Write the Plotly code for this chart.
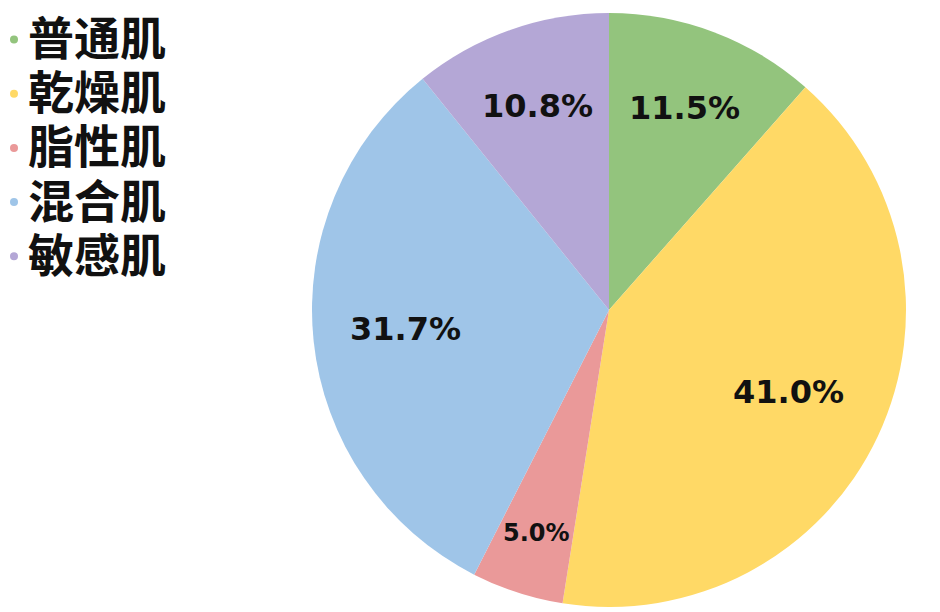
import math
import plotly.graph_objects as go

W, H = 940, 612

categories = ["普通肌", "乾燥肌", "脂性肌", "混合肌", "敏感肌"]
values = [11.5, 41.0, 5.0, 31.7, 10.8]
colors = ["#93C47D", "#FFD966", "#EA9999", "#9FC5E8", "#B4A7D6"]

# styling for percentage labels (radial position as fraction of radius, font size)
label_radius = [0.72, 0.667, 0.795, 0.69, 0.72]
label_sizes = [32, 32, 24, 32, 32]

CX, CY, R = 609, 310, 297  # pie center / radius in pixels

fig = go.Figure()
fig.add_trace(go.Pie(
    labels=categories,
    values=values,
    sort=False,
    direction="clockwise",
    rotation=0,
    marker=dict(colors=colors, line=dict(width=0)),
    textinfo="none",
    domain=dict(x=[(CX - R) / W, (CX + R) / W], y=[1 - (CY + R) / H, 1 - (CY - R) / H]),
    showlegend=False,
    hoverinfo="label+percent",
))

# percentage labels placed along each slice's mid-angle
total = sum(values)
cum = 0.0
for v, f, s in zip(values, label_radius, label_sizes):
    mid = (cum + v / 2) / total * 2 * math.pi
    cum += v
    px = CX + f * R * math.sin(mid)
    py = CY - f * R * math.cos(mid)
    fig.add_annotation(
        x=px / W, y=1 - (py - 2) / H, xref="paper", yref="paper",
        xanchor="center", yanchor="middle", showarrow=False,
        text=f"{v / total * 100:.1f}%",
        font=dict(family="DejaVu Sans", size=s, color="#111111", weight="bold"),
    )

# custom legend
row0, step = 35, 54.2
for i, (cat, col) in enumerate(zip(categories, colors)):
    yc = row0 + i * step
    fig.add_annotation(
        x=26 / W, y=1 - yc / H, xref="paper", yref="paper",
        xanchor="left", yanchor="middle", showarrow=False,
        text=cat,
        font=dict(family="Noto Sans CJK SC", size=46, color="#111111", weight="bold"),
    )
    dy = yc + 4.5
    fig.add_shape(
        type="circle", xref="paper", yref="paper",
        x0=10 / W, x1=18 / W, y0=1 - (dy + 4) / H, y1=1 - (dy - 4) / H,
        fillcolor=col, line=dict(width=0),
    )

fig.update_layout(
    width=W, height=H,
    margin=dict(l=0, r=0, t=0, b=0),
    paper_bgcolor="white", plot_bgcolor="white",
)

fig.write_html(
    "out.html",
    config={"displayModeBar": False},
    post_script="document.body.style.margin='0';document.body.style.padding='0';",
)
